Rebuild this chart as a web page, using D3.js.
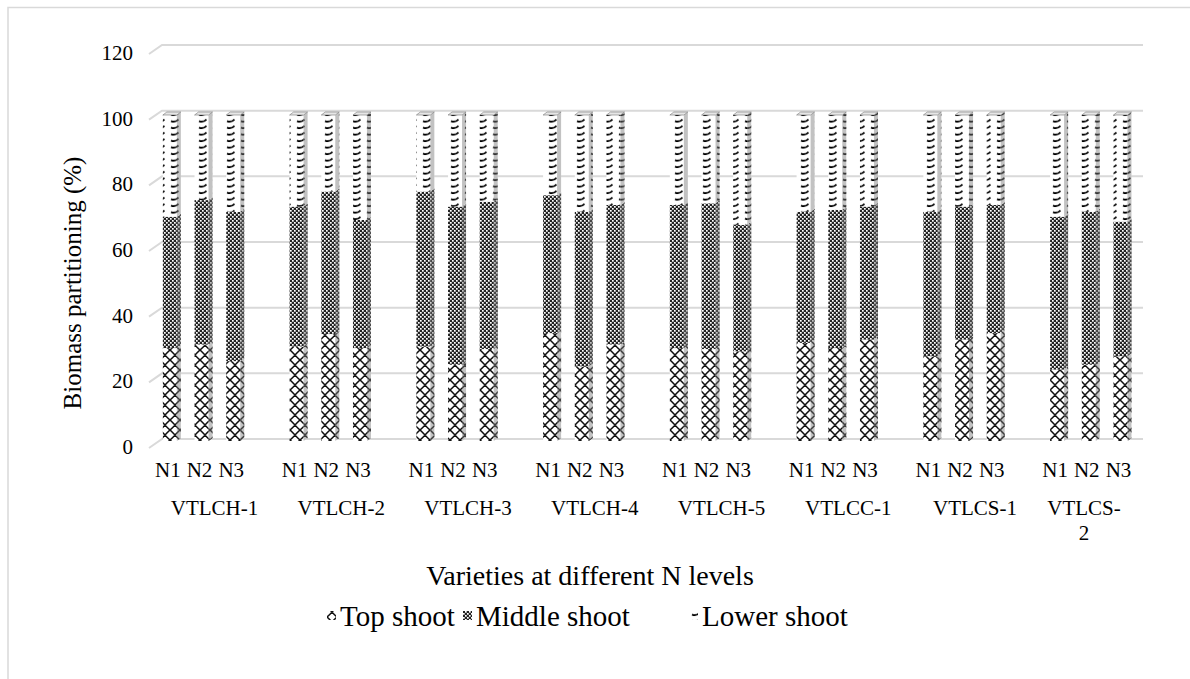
<!DOCTYPE html>
<html>
<head>
<meta charset="utf-8">
<script src="https://cdn.jsdelivr.net/npm/d3@7"></script>
<style>
  body { margin: 0; background: #fff; }
  svg text { font-family: "Liberation Serif", "DejaVu Serif", "Times New Roman", serif; fill: #000; }
</style>
</head>
<body>
<div class="chart"></div>
<script>
// DATA ------------------------------

const varieties = ["VTLCH-1", "VTLCH-2", "VTLCH-3", "VTLCH-4", "VTLCH-5", "VTLCC-1", "VTLCS-1", "VTLCS-2"];
const levels = ["N1", "N2", "N3"];
const seriesNames = ["Top shoot", "Middle shoot", "Lower shoot"];

// one value per variety x N level, in order N1, N2, N3
const topShoot = [28.5, 29.6, 24.5, 29.0, 32.8, 28.5, 29.0, 23.4, 28.2, 33.1, 22.9, 29.6,
  28.5, 28.2, 27.5, 30.1, 28.5, 31.1, 26.0, 31.1, 33.1, 21.9, 23.4, 26.0];
const middleShoot = [40.3, 44.3, 45.8, 42.9, 43.7, 39.3, 47.5, 48.5, 45.2, 42.3, 47.4, 42.8,
  43.9, 44.7, 38.8, 40.2, 42.4, 40.8, 44.3, 40.8, 39.3, 46.9, 46.9, 41.3];
const lowerShoot = [31.2, 26.1, 29.7, 28.1, 23.5, 32.2, 23.5, 28.1, 26.6, 24.6, 29.7, 27.6,
  27.6, 27.1, 33.7, 29.7, 29.1, 28.1, 29.7, 28.1, 27.6, 31.2, 29.7, 32.7];

const yTicks = [0, 20, 40, 60, 80, 100, 120];

// CHART INIT ------------------------------

const totalWidth = 1190, totalHeight = 679;

const svg = d3.select(".chart").append("svg")
  .attr("width", totalWidth)
  .attr("height", totalHeight)
  .attr("font-family", "Liberation Serif, DejaVu Serif, serif");

// outer chart border
svg.append("rect")
  .attr("x", 8).attr("y", 7.5)
  .attr("width", 1200).attr("height", 700)
  .attr("fill", "none").attr("stroke", "#d9d9d9").attr("stroke-width", 1.5);

// fill patterns
const defs = svg.append("defs");

const pTop = defs.append("pattern").attr("id", "pTop")
  .attr("patternUnits", "userSpaceOnUse").attr("width", 10).attr("height", 10);
pTop.append("rect").attr("width", 10).attr("height", 10).attr("fill", "#fff");
pTop.append("path").attr("d", "M0,0 C4,3 6,7 10,10 M10,0 C6,3 4,7 0,10")
  .attr("stroke", "#111").attr("stroke-width", 1.4).attr("fill", "none");

const pMid = defs.append("pattern").attr("id", "pMid")
  .attr("patternUnits", "userSpaceOnUse").attr("width", 4).attr("height", 4);
pMid.append("rect").attr("width", 4).attr("height", 4).attr("fill", "#222");
pMid.append("rect").attr("x", 0).attr("y", 0).attr("width", 1.7).attr("height", 1.7).attr("fill", "#fff");
pMid.append("rect").attr("x", 2).attr("y", 2).attr("width", 1.7).attr("height", 1.7).attr("fill", "#fff");

const pLow = defs.append("pattern").attr("id", "pLow")
  .attr("patternUnits", "userSpaceOnUse").attr("width", 14).attr("height", 6.5);
pLow.append("rect").attr("width", 14).attr("height", 6.5).attr("fill", "#fff");
pLow.append("path").attr("d", "M3,4 Q7,6 10.5,2.4")
  .attr("stroke", "#000").attr("stroke-width", 1.8).attr("fill", "none");

const patterns = ["url(#pTop)", "url(#pMid)", "url(#pLow)"];

// scales
const x0 = d3.scaleBand().domain(varieties).range([154, 1168]);
const x1 = d3.scaleBand().domain([...levels, "gap"]).range([0, x0.bandwidth()]);
const y = d3.scaleLinear().domain([0, 120]).range([439, 45]); // back wall
const yBar = d3.scaleLinear().domain([0, 100]).range([441, 115]); // bar front faces

const barW = 14, depthX = 4, depthY = 3;
const frontX = -13, frontY = 9; // front edge of the 3D floor

// gridlines (back wall + slanted floor edge)
svg.append("g").selectAll("path").data(yTicks).join("path")
  .attr("d", (d) => `M${162 + frontX},${y(d) + frontY} L162,${y(d)} L1143,${y(d)}`)
  .attr("fill", "none").attr("stroke", "#d9d9d9").attr("stroke-width", 2);

// y tick labels
svg.append("g").selectAll("text").data(yTicks).join("text")
  .attr("x", 133).attr("y", (d) => y(d) + 15)
  .attr("text-anchor", "end").attr("font-size", 21)
  .text((d) => d);

// stacked data
const rows = [];
varieties.forEach((v, i) => {
  levels.forEach((n, j) => {
    const k = i * 3 + j;
    rows.push({ variety: v, level: n, "Top shoot": topShoot[k], "Middle shoot": middleShoot[k], "Lower shoot": lowerShoot[k] });
  });
});
const stacked = d3.stack().keys(seriesNames)(rows);

const barX = (d) => x0(d.data.variety) + x1(d.data.level) + (x1.bandwidth() - barW) / 2;
const sidePath = (d) => {
  const xr = barX(d) + barW;
  return `M${xr},${yBar(d[1])} L${xr + depthX},${yBar(d[1]) - depthY} L${xr + depthX},${yBar(d[0]) - depthY} L${xr},${yBar(d[0])}Z`;
};

const layers = svg.append("g").selectAll("g").data(stacked).join("g");

layers.each(function (s, si) {
  const g = d3.select(this);
  // front face
  g.selectAll("rect.front").data(s).join("rect")
    .attr("class", "front")
    .attr("x", barX)
    .attr("y", (d) => yBar(d[1]))
    .attr("width", barW)
    .attr("height", (d) => yBar(d[0]) - yBar(d[1]))
    .attr("fill", patterns[si]);
  // side face, pattern with grey shading
  g.selectAll("path.side").data(s).join("path")
    .attr("class", "side")
    .attr("d", sidePath)
    .attr("fill", patterns[si]);
  g.selectAll("path.shade").data(s).join("path")
    .attr("class", "shade")
    .attr("d", sidePath)
    .attr("fill", "#777").attr("opacity", 0.45);
  // top face of the last series
  if (si === stacked.length - 1) {
    g.selectAll("path.topface").data(s).join("path")
      .attr("class", "topface")
      .attr("d", (d) => {
        const xl = barX(d), yt = yBar(d[1]);
        return `M${xl},${yt} L${xl + depthX},${yt - depthY} L${xl + barW + depthX},${yt - depthY} L${xl + barW},${yt}Z`;
      })
      .attr("fill", "#e6e6e6").attr("stroke", "#777").attr("stroke-width", 0.6);
  }
});

// x axis labels: N levels
svg.append("g").selectAll("text").data(rows).join("text")
  .attr("x", (d) => x0(d.variety) + x1(d.level) + x1.bandwidth() / 2 - 2)
  .attr("y", 477)
  .attr("text-anchor", "middle").attr("font-size", 21)
  .text((d) => d.level);

// x axis labels: varieties (last one wraps)
const groupLabels = svg.append("g").selectAll("text").data(varieties).join("text")
  .attr("x", (d) => x0(d) + x1("N2") + x1.bandwidth() / 2 + 13)
  .attr("y", 515)
  .attr("text-anchor", "middle").attr("font-size", 21);

groupLabels.each(function (d, i) {
  const t = d3.select(this);
  if (i === varieties.length - 1) {
    const parts = d.split("-");
    t.attr("x", null);
    t.append("tspan").attr("x", 1084).attr("dy", 0).text(parts[0] + "-");
    t.append("tspan").attr("x", 1084).attr("dy", 25).text(parts[1]);
  } else {
    t.text(d);
  }
});

// axis titles
svg.append("text")
  .attr("transform", "translate(81,283) rotate(-90)")
  .attr("text-anchor", "middle").attr("font-size", 25)
  .text("Biomass partitioning (%)");

svg.append("text")
  .attr("x", 590).attr("y", 585)
  .attr("text-anchor", "middle").attr("font-size", 28)
  .text("Varieties at different N levels");

// legend
const legendX = [327, 463, 689];
const legend = svg.append("g").selectAll("g").data(seriesNames).join("g")
  .attr("transform", (d, i) => `translate(${legendX[i]},617)`);
legend.append("rect")
  .attr("x", 0).attr("y", -6).attr("width", 9).attr("height", 9)
  .attr("fill", (d, i) => patterns[i]);
legend.append("text")
  .attr("x", 13).attr("y", 9).attr("font-size", 29)
  .text((d) => d);
</script>
</body>
</html>
